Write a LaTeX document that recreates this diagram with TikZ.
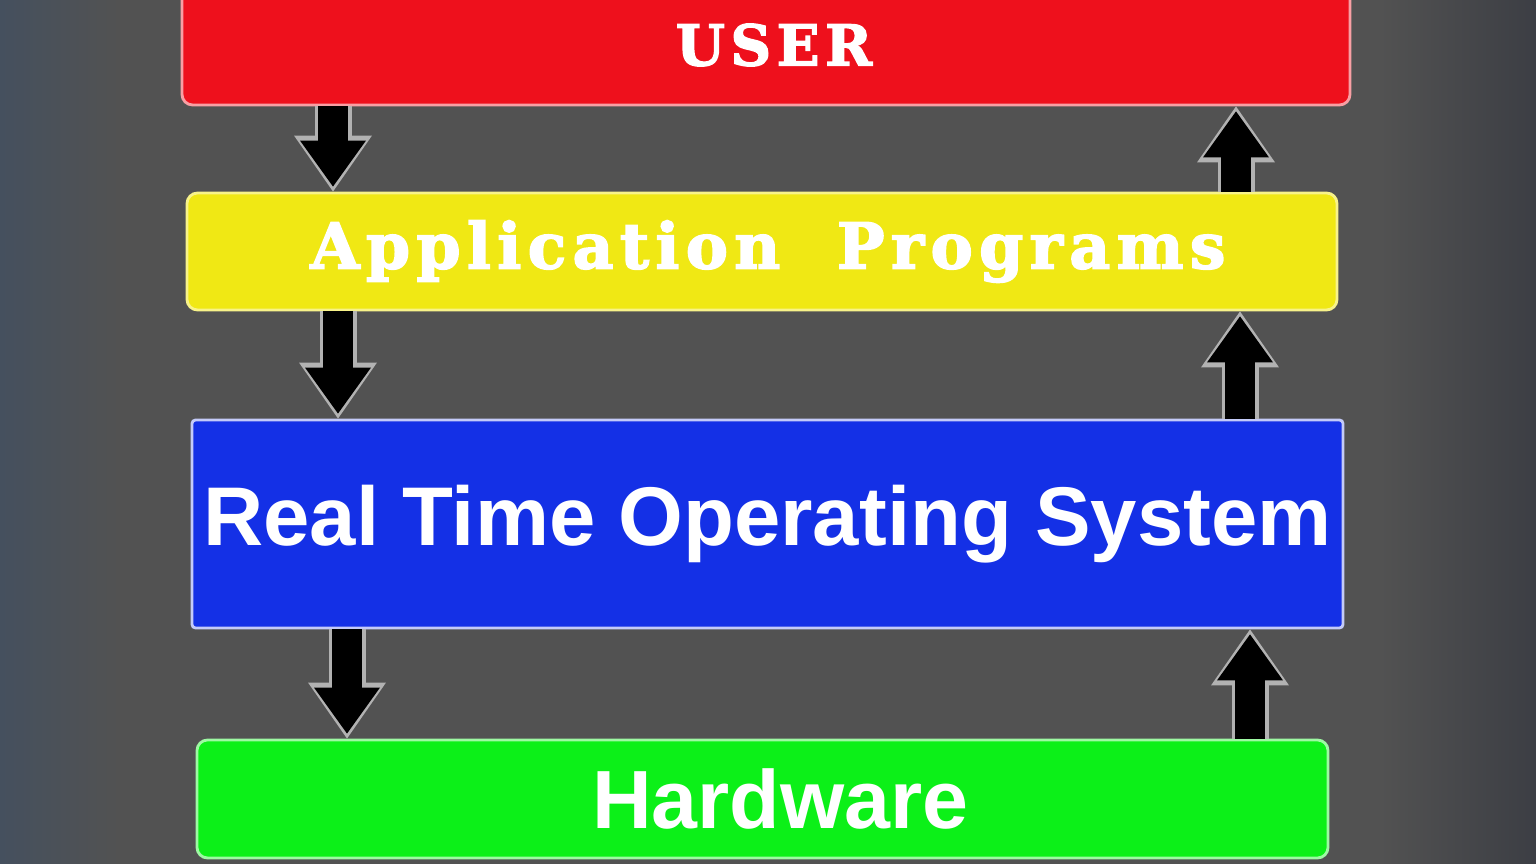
\documentclass[tikz,border=0pt]{standalone}
\usepackage{fontspec}
\usetikzlibrary{arrows.meta}
\setmainfont{Liberation Sans}
\newfontfamily\slab[LetterSpace=10, FakeBold=2.5]{DejaVu Serif Bold}
\definecolor{bg}{HTML}{525252}
\definecolor{bgdark}{HTML}{3C3E44}
\definecolor{bgblue}{HTML}{45505E}
\definecolor{userred}{HTML}{EE101C}
\definecolor{appyellow}{HTML}{F0E814}
\definecolor{osblue}{HTML}{1430E6}
\definecolor{hwgreen}{HTML}{0CF018}
\begin{document}
\begin{tikzpicture}[box/.style = {draw, line width=0.8pt, rounded corners=3pt, inner sep=0pt, text=white, font=\bfseries}, flow/.style = {black, line width=0.3cm, shorten >=0.05cm, -{Triangle[length=0.46cm, width=0.66cm, line width=0pt]}, preaction={draw=gray!60, line width=0.37cm, shorten >=0cm, -{Triangle[length=0.56cm, width=0.78cm, line width=0pt]}}}] 
		\clip (0,0) rectangle (15.36,8.64);
		% background
		\fill[bg] (0,0) rectangle (15.36,8.64);
		\shade[left color=bgblue, right color=bg] (0,0) rectangle (1.2,8.64);
		\shade[left color=bg, right color=bgdark] (13.8,0) rectangle (15.36,8.64);
		% layers
		\node[box, fill=userred, draw=userred!40!white, minimum width=11.68cm, minimum height=1.2cm] (user) at (7.66,8.19) {\slab\fontsize{16}{20}\selectfont\hspace*{0.16cm}USER};
		\node[box, fill=appyellow, draw=appyellow!50!white, minimum width=11.5cm, minimum height=1.17cm] (app) at (7.62,6.125) {\slab\fontsize{18}{20}\selectfont\hspace*{0.12cm}Application~~Programs};
		\node[box, fill=osblue, draw=osblue!25!white, rounded corners=1pt, minimum width=11.51cm, minimum height=2.08cm] (rtos) at (7.675,3.40) {\fontsize{23.7}{28}\selectfont Real Time Operating System};
		\node[box, fill=hwgreen, draw=hwgreen!40!white, minimum width=11.31cm, minimum height=1.18cm] (hw) at (7.625,0.65) {\fontsize{23.5}{28}\selectfont\hspace*{0.36cm}Hardware};
		% downward flow
		\foreach \a/\b/\x in {user/app/3.33, app/rtos/3.38, rtos/hw/3.47}
			\draw[flow] (\x,0 |- \a.south) -- (\x,0 |- \b.north);
		% upward flow
		\foreach \a/\b/\x in {app/user/12.36, rtos/app/12.40, hw/rtos/12.50}
			\draw[flow] (\x,0 |- \a.north) -- (\x,0 |- \b.south);
\end{tikzpicture}
\end{document}
